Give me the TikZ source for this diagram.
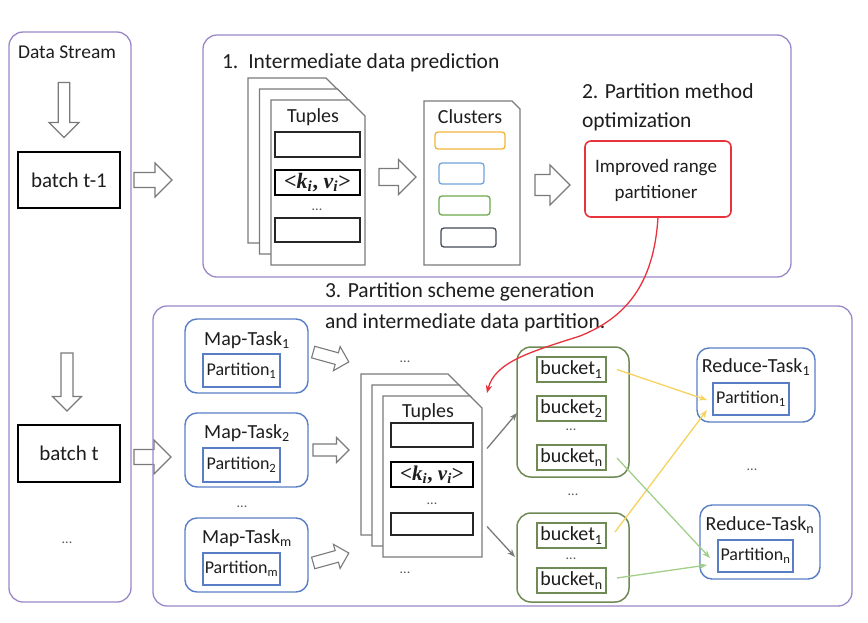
\documentclass[tikz,border=0pt]{standalone}
\usepackage{fontspec}
\setmainfont{Carlito}
\newfontfamily\serifb{Liberation Serif}
\usetikzlibrary{arrows.meta,calc}
\definecolor{purp}{HTML}{9A86C8}
\definecolor{bluebx}{HTML}{5A7EC6}
\definecolor{grn}{HTML}{6F8A55}
\definecolor{redbx}{HTML}{E8333C}
\definecolor{orng}{HTML}{F0B43C}
\definecolor{cblue}{HTML}{6FA4DA}
\definecolor{cgrn}{HTML}{6AAA4A}
\definecolor{cdark}{HTML}{454B57}
\definecolor{yel}{HTML}{F6D35E}
\definecolor{lgrn}{HTML}{A3CF8A}
\definecolor{arrg}{HTML}{7A7A7A}
\definecolor{txt}{HTML}{1E1E1E}
\newcommand\sbs[1]{\textsubscript{#1}}
\newcommand\kv{{\serifb\bfseries <\textit{k}\textsubscript{\textit{i}}, \textit{v}\textsubscript{\textit{i}}>}}
% style, name, x0, y0, x1, y1, text
\newcommand\boxat[7]{\node[#1,minimum width={#5-#3},minimum height={#6-#4}] (#2) at ({(#3+#5)/2},{(#4+#6)/2}) {#7};}
% folded page: name, x0, y0, w, h, chamfer
\newcommand\docpage[6]{%
  \node[inner sep=0,minimum width=#4,minimum height=#5] (#1) at ({#2+#4/2},{#3+#5/2}) {};
  \draw[pageline] (#1.north west) -- ($(#1.north east)+(-#6,0)$) -- ($(#1.north east)+(0,#6)$) -- (#1.south east) -- (#1.south west) -- cycle;}
% block arrow: name, cx, cy, angle, length, head width, shaft width
\newcommand\blkarrow[7]{%
  \coordinate (#1) at (#2,#3);
  \begin{scope}[shift={(#1)},rotate=#4]
  \draw[blk] ({-#5/2},{-#7/2}) -- ({#5/2-#6/2},{-#7/2}) -- ({#5/2-#6/2},{-#6/2}) -- ({#5/2},0)
    -- ({#5/2-#6/2},{#6/2}) -- ({#5/2-#6/2},{#7/2}) -- ({-#5/2},{#7/2}) -- cycle;
  \end{scope}}
\begin{document}
\begin{tikzpicture}[x=1pt,y=-1pt,
  every node/.style={text=txt,inner sep=0pt,outer sep=0pt},
  panel/.style={draw=purp,line width=1.3pt,rounded corners=14pt},
  batchbox/.style={draw=black,line width=2pt,font=\fontsize{21}{24}\selectfont},
  pageline/.style={draw=arrg,line width=1.2pt,fill=white},
  rowbox/.style={draw=black!85,line width=1.1pt,fill=white},
  kvbox/.style={draw=black,line width=1.8pt,fill=white},
  clus/.style={line width=1.3pt,rounded corners=3pt},
  mapbox/.style={draw=bluebx,line width=1.4pt,rounded corners=12pt},
  inbox/.style={draw=bluebx,line width=1.1pt,font=\fontsize{18}{20}\selectfont},
  grpbox/.style={draw=grn,line width=1.5pt,rounded corners=14pt},
  bucket/.style={draw=grn,line width=1.1pt,font=\fontsize{20}{22}\selectfont},
  lbl/.style={font=\fontsize{20}{22}\selectfont},
  big/.style={font=\fontsize{21.5}{24}\selectfont},
  dots/.style={font=\fontsize{14}{16}\selectfont,text=black!65},
  blk/.style={draw=arrg,fill=white,line width=1.1pt,line join=miter},
  conn/.style={line width=1.3pt},
]
\useasboundingbox (0,0) rectangle (868,622);
\fill[white] (0,0) rectangle (868,622);

% ---------- left column ----------
\boxat{panel}{ds}{9}{32}{131}{602}{}
\node[font=\fontsize{19.5}{22}\selectfont] (dstxt) at (67,52) {Data Stream};
\blkarrow{d1}{64}{110}{-90}{55}{30}{11.5}
\boxat{batchbox}{b1}{18}{152}{120}{208}{batch t-1}
\blkarrow{d2}{67}{382}{-90}{58}{29}{12}
\boxat{batchbox}{b2}{18}{425}{120}{482}{batch t}
\node[dots] (ddots) at (67,543) {...};

\blkarrow{r1}{153}{180}{0}{38}{34}{15}
\blkarrow{r2}{152.5}{457}{0}{37}{34}{15}

% ---------- top panel ----------
\boxat{panel}{top}{203}{35}{791}{277}{}
\node[big,anchor=west] (t1) at (222,63) {1.\hspace{10pt}Intermediate data prediction};

\docpage{pa}{248}{78}{94}{165}{16}
\docpage{pb}{259.5}{89}{94}{165}{16}
\docpage{pc}{271}{100}{94}{165}{16}
\node[lbl] (tup1) at (313,117) {Tuples};
\boxat{rowbox}{ra}{275}{132}{360}{157}{}
\boxat{kvbox}{rb}{275}{170}{360}{195}{\fontsize{22}{24}\selectfont\kv}
\node[dots] (rdots) at (317,210) {...};
\boxat{rowbox}{rc}{275}{218}{360}{242}{}

\blkarrow{a12}{397.5}{177}{0}{37}{35}{17}

\docpage{cl}{424}{101}{96}{164}{8}
\node[lbl] (cltxt) at (470,117) {Clusters};
\boxat{clus,draw=orng}{c1}{435}{132}{505}{149}{}
\boxat{clus,draw=cblue}{c2}{439}{163}{484}{184}{}
\boxat{clus,draw=cgrn}{c3}{439}{196}{490}{215}{}
\boxat{clus,draw=cdark}{c4}{441}{228}{496}{247}{}

\blkarrow{a23}{552.5}{185}{0}{35}{40}{21}

\node[big,anchor=west] (t2a) at (582,91) {2. Partition method};
\node[big,anchor=west] (t2b) at (582,122) {optimization};
\boxat{draw=redbx,line width=1.6pt,rounded corners=6pt}{irp}{585}{141}{731}{217}{}
\node[font=\fontsize{19}{26}\selectfont,align=center] (irptxt) at (656,180) {Improved range\\partitioner};

% ---------- bottom panel ----------
\boxat{panel}{bot}{153}{306}{852}{606}{}
\node[big,anchor=west] (t3a) at (325,292) {3. Partition scheme generation};
\node[big,anchor=west] (t3b) at (325,323) {and intermediate data partition.};

% map tasks
\boxat{mapbox}{m1}{185}{319}{308}{393}{}
\node[lbl] (m1l) at (247,340) {Map-Task\sbs{1}};
\boxat{inbox}{mp1}{203}{354}{280}{387}{Partition\sbs{1}}
\boxat{mapbox}{m2}{185}{413}{308}{487}{}
\node[lbl] (m2l) at (247,433) {Map-Task\sbs{2}};
\boxat{inbox}{mp2}{203}{448}{280}{482}{Partition\sbs{2}}
\node[dots] (mdots) at (242,507) {...};
\boxat{mapbox}{m3}{185}{518}{308}{592}{}
\node[lbl] (m3l) at (247,538) {Map-Task\sbs{m}};
\boxat{inbox}{mp3}{203}{553}{280}{585}{Partition\sbs{m}}

\blkarrow{ma1}{331}{357}{-15.5}{37}{25}{12}
\blkarrow{ma2}{331}{450}{0}{36}{25}{12}
\blkarrow{ma3}{331}{558}{15.5}{37}{25}{12}

\node[dots] (sdots1) at (405,362) {...};
\node[dots] (sdots2) at (405,573) {...};

\docpage{qa}{361}{374}{99}{161}{12}
\docpage{qb}{372}{385}{99}{161}{12}
\docpage{qc}{383}{396}{99}{161}{12}
\node[lbl] (tup2) at (428,412) {Tuples};
\boxat{rowbox}{qa1}{391}{423}{473}{447}{}
\boxat{kvbox}{qa2}{391}{462}{473}{487}{\fontsize{21}{24}\selectfont\kv}
\node[dots] (qdots) at (432,504) {...};
\boxat{rowbox}{qa3}{391}{513}{473}{535}{}

% bucket groups
\boxat{grpbox}{g1}{517}{347}{629}{477}{}
\boxat{bucket}{b11}{537}{357}{606}{382}{bucket\sbs{1}}
\boxat{bucket}{b12}{537}{396}{606}{421}{bucket\sbs{2}}
\node[dots] (gdots1) at (571,430) {...};
\boxat{bucket}{b1n}{537}{445}{606}{470}{bucket\sbs{n}}
\node[dots] (gdots) at (573,495) {...};
\boxat{grpbox}{g2}{517}{513}{629}{602}{}
\boxat{bucket}{b21}{537}{523}{606}{548}{bucket\sbs{1}}
\node[dots] (gdots2) at (571,559) {...};
\boxat{bucket}{b2n}{537}{568}{606}{593}{bucket\sbs{n}}

% reduce tasks
\boxat{mapbox}{rt1}{697}{348}{815}{422}{}
\node[lbl] (rt1l) at (756,367) {Reduce-Task\sbs{1}};
\boxat{inbox}{rp1}{713}{383}{789}{415}{Partition\sbs{1}}
\node[dots] (rdots2) at (752,470) {...};
\boxat{mapbox}{rtn}{700}{505}{820}{579}{}
\node[lbl] (rtnl) at (760,525) {Reduce-Task\sbs{n}};
\boxat{inbox}{rpn}{718}{540}{793}{572}{Partition\sbs{n}}

% connectors
\draw[conn,draw=arrg,-{Stealth[length=8pt,width=6pt]}] ($(qc.east)+(5,-28)$) -- ($(g1.west)+(0,1)$);
\draw[conn,draw=arrg,-{Stealth[length=8pt,width=6pt]}] ($(qc.east)+(5,50)$) -- ($(g2.west)+(-2,-0.5)$);
\draw[conn,draw=yel,-{Stealth[length=8pt,width=6pt]}] ($(b11.east)+(11,0)$) -- ($(rp1.west)+(-6,1)$);
\draw[conn,draw=yel,-{Stealth[length=8pt,width=6pt]}] ($(b21.east)+(9,-3.5)$) -- ($(rp1.west)+(-6,11)$);
\draw[conn,draw=lgrn,-{Stealth[length=8pt,width=6pt]}] ($(b1n.east)+(11,0.5)$) -- ($(rpn.west)+(-8,2)$);
\draw[conn,draw=lgrn,-{Stealth[length=8pt,width=6pt]}] ($(b2n.east)+(11,-2.5)$) -- ($(rpn.west)+(-11,9)$);
\draw[line width=1.3pt,draw=redbx,-{Stealth[length=8pt,width=6.5pt]}] (irp.south) .. controls (654,285) and (625,318) .. (580,336) .. controls (530,352) and (495,362) .. ($(qc.north east)+(5,-3)$);
\end{tikzpicture}
\end{document}
